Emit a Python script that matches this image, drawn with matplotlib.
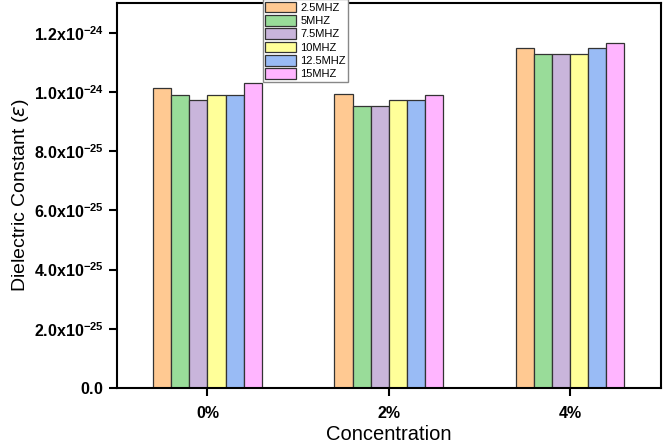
import numpy as np
import matplotlib
matplotlib.use("Agg")
import matplotlib.pyplot as plt

plt.rcParams['font.family'] = ['Liberation Sans', 'DejaVu Sans']
plt.rcParams['mathtext.fontset'] = 'custom'
plt.rcParams['mathtext.rm'] = 'Liberation Sans'
plt.rcParams['mathtext.bf'] = 'Liberation Sans:bold'

# data (units of 1e-24)
concentrations = ['0%', '2%', '4%']
frequencies = ['2.5MHZ', '5MHZ', '7.5MHZ', '10MHZ', '12.5MHZ', '15MHZ']
f_2_5 = [1.013, 0.993, 1.147]
f_5 = [0.990, 0.953, 1.128]
f_7_5 = [0.973, 0.953, 1.128]
f_10 = [0.990, 0.973, 1.128]
f_12_5 = [0.990, 0.973, 1.147]
f_15 = [1.030, 0.990, 1.167]
series = [f_2_5, f_5, f_7_5, f_10, f_12_5, f_15]
colors = ['#FFC992', '#99DC99', '#C9B5DB', '#FFFF99', '#99BBF5', '#FFB5FF']

fig = plt.figure(figsize=(6.64, 4.48), dpi=100)
ax = fig.add_axes([0.176, 0.134, 0.819, 0.859])

x = np.arange(len(concentrations))
w = 0.1
for i, (vals, c, lab) in enumerate(zip(series, colors, frequencies)):
    ax.bar(x + (i - 2.5) * w, np.array(vals) * 1e-24, width=w, color=c,
           edgecolor='#333333', linewidth=0.9, label=lab)

ax.set_xlim(-0.5, 2.5)
ax.set_ylim(0, 1.3e-24)
ax.set_xticks(x)
ax.set_xticklabels(concentrations, fontweight='bold', fontsize=11.5)

yt = np.arange(0, 1.21, 0.2)
ylabels = []
for v in yt:
    if v == 0:
        ylabels.append(r'$\mathbf{0.0}$')
    elif v >= 1.0:
        ylabels.append(r'$\mathbf{%.1fx10^{-24}}$' % v)
    else:
        ylabels.append(r'$\mathbf{%.1fx10^{-25}}$' % (v * 10))
ax.set_yticks(yt * 1e-24)
ax.set_yticklabels(ylabels, fontsize=11.5)

ax.tick_params(direction='out', length=6, width=1.5)
ax.tick_params(axis='x', pad=7)
for s in ax.spines.values():
    s.set_linewidth(1.5)

ax.set_xlabel('Concentration', fontsize=14.5, labelpad=3)
ax.set_ylabel(r'Dielectric Constant ($\varepsilon$)', fontsize=14, labelpad=2)

ax.legend(loc='upper left', bbox_to_anchor=(0.268, 1.01), fontsize=8,
          frameon=True, fancybox=False, edgecolor='#888888', framealpha=1,
          handlelength=2.8, handleheight=1.1, labelspacing=0.2,
          borderpad=0.2, handletextpad=0.4, borderaxespad=0)

fig.savefig('out.png', dpi=100)
